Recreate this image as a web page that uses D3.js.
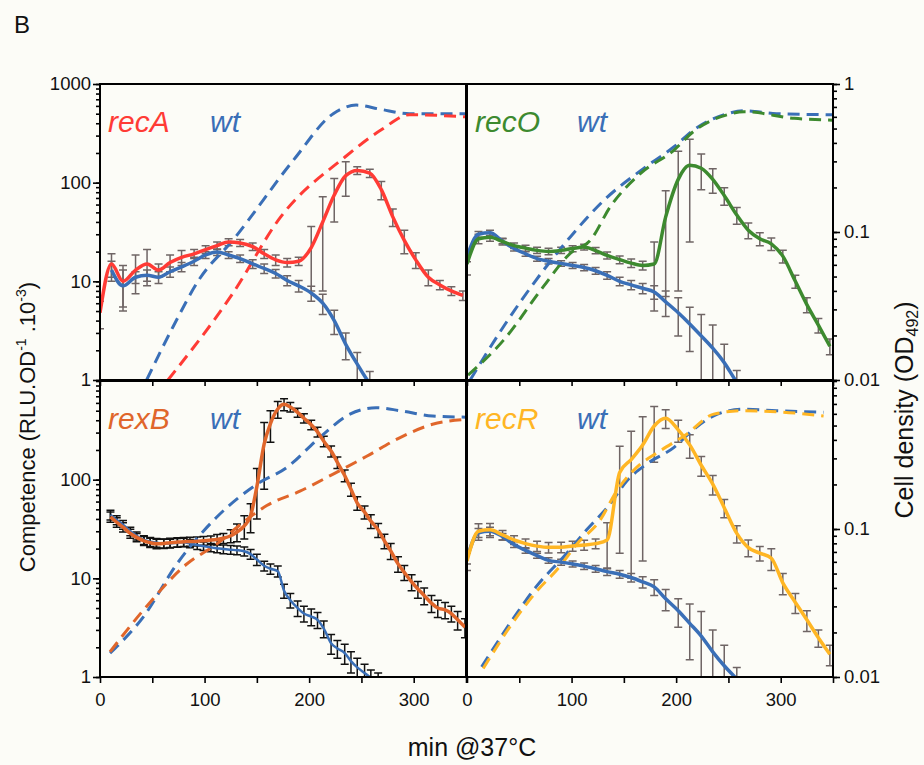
<!DOCTYPE html>
<html lang="en">
<head>
<meta charset="utf-8">
<title>Competence and cell density</title>
<script src="https://cdn.jsdelivr.net/npm/d3@7"></script>
<style>
  body { margin: 0; background: #fcfcf7; }
  text { font-family: "Liberation Sans", Arial, sans-serif; }
</style>
</head>
<body>
<svg width="924" height="765"></svg>
<script>
// sampling times (min) for recA / recO / recR panels
var T = [0, 11, 22, 34, 45, 56, 67, 78, 90, 101, 112, 123, 134, 146, 157, 168,
         179, 190, 202, 213, 224, 235, 246, 258, 269, 280, 291, 302, 314, 325, 336, 347];
// sampling times (min) for the rexB panel
var TB = [10, 16, 22, 29, 35, 42, 48, 54, 61, 67, 74, 80, 86, 93, 99, 106, 112, 118,
          125, 131, 138, 144, 150, 157, 163, 170, 176, 182, 189, 195, 202, 208, 214, 221,
          227, 234, 240, 246, 253, 259, 266, 272, 278, 285, 291, 298, 304, 310, 317, 323,
          330, 336, 342, 349];

// competence (RLU.OD-1.10-3) and sd
var recA    = [4.8, 15, 10, 13, 15, 13, 15.5, 17.5, 19, 21, 23, 25, 24.5, 22.5, 19, 16.5,
               15.5, 16, 22, 40, 75, 118, 133, 125, 85, 45, 26, 16.5, 11, 9.2, 8, 7.2];
var recA_sd = [1.5, 4, 4.5, 5.5, 6, 2, 3, 3, 2, 2, 2, 2, 2, 2, 2, 2,
               1.5, 1.5, 14, 32, 35, 45, 12, 12, 18, 9, 7, 3, 2, 1, 0.8, 0.8];
var wtA     = [null, 13, 9, 11, 11.5, 11, 12.5, 14, 16, 18.5, 19.8, 18.5, 17, 15, 13.5, 12,
               10.2, 9, 7.6, 6, 4, 2.3, 1.45, 0.92, 0.7];
var wtA_sd  = [null, 3, 4, 1.5, 1.5, 1.5, 1.5, 1.5, 1.5, 1.5, 1.5, 1.5, 1.5, 1.5, 1.5, 1.2,
               1.2, 1.2, 1.3, 1.4, 1.1, 0.7, 0.45, 0.3, 0.2];

var recO    = [15, 27, 28, 25.3, 23, 21.7, 20.6, 20.1, 20.6, 21.5, 22.3, 20.5, 18.3, 16.6, 15.3, 14.5,
               15, 45, 108, 150, 140, 108, 74, 47, 33, 27, 24, 18, 10, 5.8, 3.6, 2.2];
var recO_sd = [3.4, 3, 2.5, 2, 1.5, 1.5, 1.5, 1.5, 1.5, 1.5, 1.5, 1.5, 1.5, 1.5, 1.5, 1.5,
               10, 38, 100, 125, 55, 30, 15, 9, 6, 4, 3.5, 2.7, 1.5, 1, 0.6, 0.4];
var wtO     = [17.8, 30, 31, 25.5, 21.5, 19, 17, 16, 15.2, 14.5, 13.8, 12.8, 11.5, 10, 9.2, 8.5,
               7.8, 6.2, 4.8, 3.7, 2.8, 2.1, 1.5, 0.95, 0.7];
var wtO_sd  = [2, 2, 2, 1.5, 1.2, 1, 1, 1, 1, 1, 1, 1, 1, 1, 1, 1,
               1.2, 1.8, 2, 1.75, 1.8, 1.5, 0.8, 0.3, 0.2];

var recR    = [15, 30, 31, 27.5, 24.5, 22.5, 21.2, 20.6, 20.7, 21.3, 21.8, 22.5, 24.5, 118, 160, 225,
               350, 420, 320, 225, 140, 90, 52, 28.5, 20.5, 18, 16, 9, 5.7, 3.8, 2.5, 1.7];
var recR_sd = [3, 5.7, 5, 3, 2.5, 2.5, 2.5, 2.5, 2.5, 2.5, 2.5, 2.5, 12, 100, 150, 210,
               200, 90, 80, 60, 32, 20, 11, 5.7, 4, 3, 4, 2.2, 1.3, 0.9, 0.5, 0.4];
var wtR     = [16, 29, 30, 26.5, 22, 19.2, 17, 15.2, 14.6, 14, 13.3, 12.5, 11.7, 11, 10.2, 9.2,
               8.2, 6.2, 4.7, 3.5, 2.6, 1.8, 1.3, 0.95, 0.7];
var wtR_sd  = [2, 3, 3, 2, 1.5, 1.2, 1, 1, 1, 1, 1, 1, 1, 1, 1, 1.2,
               1.5, 1.5, 1.5, 2, 2, 1.2, 0.8, 0.3, 0.2];

var rexB    = [42, 37, 33, 28.5, 26, 24, 23, 22.4, 22.6, 23, 23.3, 23.5, 23.6, 23.8, 24.1, 24.4, 24.8, 25.5,
               27, 29.5, 34, 43, 85, 230, 370, 520, 580, 545, 480, 420, 360, 305, 245, 195,
               150, 110, 80, 58, 47, 38, 31, 24, 19, 14, 11.5, 9.2, 7.8, 6.7, 5.6, 5.0,
               4.8, 4.4, 3.8, 3.2];
var rexB_sd = [5, 4, 3.5, 3, 2.5, 2.5, 2.5, 2.5, 2.5, 2.5, 2.5, 2.5, 2.5, 2.5, 2.5, 2.5, 3, 3,
               4, 6, 9, 14, 45, 150, 130, 100, 80, 60, 50, 45, 40, 35, 30, 25,
               20, 15, 12, 9, 7, 6, 5, 4, 3.5, 2.5, 2, 1.7, 1.5, 1.3, 1.1, 1,
               0.9, 0.8, 0.8, 0.7];
var wtB     = [44, 39, 35, 30, 27, 24.5, 23.5, 23, 22.6, 22.6, 23, 23.2, 22.6, 21.8, 21.2, 20.6, 20.2, 19.8,
               19.5, 19.3, 18.8, 17.6, 15.5, 13.4, 12.5, 11.8, 7.5, 6.0, 5.0, 4.4, 4.1, 3.8, 3.1, 2.2,
               1.95, 1.75, 1.45, 1.25, 1.1, 0.98, 0.9, 0.85, 0.8];
var wtB_sd  = [5, 4, 3.5, 3, 2.5, 2.5, 2.5, 2.3, 2.3, 2.3, 2.3, 2.3, 2.2, 2.2, 2.1, 2, 2, 2,
               2, 2, 2, 2, 2, 1.5, 1.5, 1.5, 1.2, 1, 0.9, 0.8, 0.8, 0.7, 0.6, 0.5,
               0.4, 0.4, 0.35, 0.3, 0.25, 0.2, 0.2, 0.15, 0.15];

// cell density (OD492), dashed curves
var odA_wt_t  = [44.6, 70, 95, 127, 185, 223, 245, 268, 296, 350];
var odA_wt    = [0.01, 0.023, 0.048, 0.088, 0.306, 0.63, 0.72, 0.675, 0.63, 0.63];
var odA_mut_t = [65, 127, 173, 234, 269, 296, 350];
var odA_mut   = [0.01, 0.0385, 0.127, 0.32, 0.49, 0.62, 0.6];

var odO_wt_t  = [3, 35, 73, 99, 131, 166, 198, 217, 249, 265, 296, 350];
var odO_wt    = [0.01, 0.023, 0.055, 0.093, 0.164, 0.26, 0.377, 0.49, 0.63, 0.66, 0.63, 0.62];
var odO_mut_t = [1, 35, 73, 99, 118, 137, 166, 198, 217, 249, 265, 313, 350];
var odO_mut   = [0.0108, 0.0186, 0.0427, 0.072, 0.088, 0.148, 0.249, 0.358, 0.48, 0.62, 0.65, 0.586, 0.57];

var odB_wt_t  = [9.6, 41.5, 73.5, 111.5, 149.7, 178.5, 210, 239, 264, 287, 318, 350];
var odB_wt    = [0.0145, 0.0255, 0.058, 0.12, 0.2, 0.26, 0.415, 0.597, 0.66, 0.63, 0.58, 0.57];
var odB_mut_t = [9.6, 41.5, 83, 111.5, 137, 159.5, 191.2, 223, 255, 287, 318, 350];
var odB_mut   = [0.0148, 0.0283, 0.058, 0.079, 0.111, 0.144, 0.18, 0.235, 0.31, 0.415, 0.51, 0.55];

var odR_wt_t  = [14, 41, 66, 95, 114, 137, 153, 172, 198, 217, 239.5, 264.6, 296, 341];
var odR_wt    = [0.0117, 0.023, 0.0406, 0.068, 0.098, 0.148, 0.212, 0.275, 0.356, 0.473, 0.597, 0.645, 0.63, 0.615];
var odR_mut_t = [15.5, 41, 66, 88, 105, 127, 143, 162, 185, 210, 236, 264.6, 296, 341];
var odR_mut   = [0.0114, 0.0218, 0.0375, 0.055, 0.079, 0.114, 0.18, 0.26, 0.338, 0.437, 0.597, 0.63, 0.62, 0.58];

var blue = "#3a6fb7";

var svg = d3.select("svg");
svg.append("rect").attr("width", 924).attr("height", 765).attr("fill", "#fcfcf7");

var pw = 366, ph = 296;
var x = d3.scaleLinear().domain([0, 350]).range([0, pw]);
var yL = d3.scaleLog().domain([1, 1000]).range([ph, 0]);
var yR = d3.scaleLog().domain([0.01, 1]).range([ph, 0]);

function pts(t, v, sd) {
  return t.map(function(d, i) {
    return {t: d, v: i < v.length ? v[i] : null, sd: sd && i < sd.length ? sd[i] : null};
  });
}

var lineL = d3.line().defined(function(d) { return d.v != null; })
  .x(function(d) { return x(d.t); }).y(function(d) { return yL(d.v); })
  .curve(d3.curveMonotoneX);
var lineR = d3.line()
  .x(function(d) { return x(d.t); }).y(function(d) { return yR(d.v); })
  .curve(d3.curveMonotoneX);

var panels = [
  {id: "A", px: 100, py: 84, side: "left", top: true, name: "recA", col: "#ff3b35", err: "#6f6565",
   t: T, mut: recA, mutSd: recA_sd, wt: wtA, wtSd: wtA_sd, mutW: 3.5, wtW: 3.5,
   od: [[odA_wt_t, odA_wt], [odA_mut_t, odA_mut]]},
  {id: "O", px: 467, py: 84, side: "right", top: true, name: "recO", col: "#3d8a2f", err: "#6f6565",
   t: T, mut: recO, mutSd: recO_sd, wt: wtO, wtSd: wtO_sd, mutW: 3.5, wtW: 3.5,
   od: [[odO_wt_t, odO_wt], [odO_mut_t, odO_mut]]},
  {id: "B", px: 100, py: 381, side: "left", top: false, name: "rexB", col: "#e0662b", err: "#111111",
   t: TB, mut: rexB, mutSd: rexB_sd, wt: wtB, wtSd: wtB_sd, mutW: 3.5, wtW: 2.5,
   od: [[odB_wt_t, odB_wt], [odB_mut_t, odB_mut]]},
  {id: "R", px: 467, py: 381, side: "right", top: false, name: "recR", col: "#ffb624", err: "#6f6565",
   t: T, mut: recR, mutSd: recR_sd, wt: wtR, wtSd: wtR_sd, mutW: 3.5, wtW: 3.5,
   od: [[odR_wt_t, odR_wt], [odR_mut_t, odR_mut]]}
];

var minorL = [], minorR = [];
[1, 10, 100].forEach(function(b) { for (var k = 1; k < 10; k++) minorL.push(b * k); });
minorL.push(1000);
[0.01, 0.1].forEach(function(b) { for (var k = 1; k < 10; k++) minorR.push(+(b * k).toPrecision(3)); });
minorR.push(1);

panels.forEach(function(p) {
  var g = svg.append("g").attr("transform", "translate(" + p.px + "," + p.py + ")");

  g.append("clipPath").attr("id", "clip" + p.id)
    .append("rect").attr("width", pw).attr("height", ph);

  // axes
  g.append("g").attr("transform", "translate(0," + ph + ")")
    .call(d3.axisBottom(x).tickValues(d3.range(0, 351, 50)).tickSize(6).tickPadding(10)
      .tickFormat(function(d) { return (!p.top && d % 100 === 0 && d < 350) ? d : ""; }));
  if (p.side === "left") {
    g.append("g").call(d3.axisLeft(yL).tickValues(minorL).tickSize(4).tickFormat(""));
    g.append("g").call(d3.axisLeft(yL).tickValues(p.top ? [1, 10, 100, 1000] : [1, 10, 100])
      .tickSize(7).tickPadding(2).tickFormat(d3.format("d")));
  } else {
    g.append("g").attr("transform", "translate(" + pw + ",0)")
      .call(d3.axisRight(yR).tickValues(minorR).tickSize(4).tickFormat(""));
    g.append("g").attr("transform", "translate(" + pw + ",0)")
      .call(d3.axisRight(yR).tickValues(p.top ? [0.01, 0.1, 1] : [0.01, 0.1])
        .tickSize(7).tickPadding(4).tickFormat(function(d) { return d === 1 ? "1" : String(d); }));
  }
  g.selectAll(".domain").remove();
  g.selectAll(".tick line").attr("stroke", "#000").attr("stroke-width", 1.6);
  g.selectAll(".tick text").attr("font-size", 18.5).attr("fill", "#111")
    .style("font-family", "'Liberation Sans', Arial, sans-serif");

  var plot = g.append("g").attr("clip-path", "url(#clip" + p.id + ")");

  // error bars
  var eb = [pts(p.t, p.wt, p.wtSd), pts(p.t, p.mut, p.mutSd)];
  eb.forEach(function(s) {
    var d = s.filter(function(e) { return e.v != null && e.sd != null; });
    var grp = plot.append("g").attr("stroke", p.err).attr("stroke-width", 1.5).attr("fill", "none");
    grp.selectAll("path").data(d).enter().append("path")
      .attr("d", function(e) {
        var lo = yL(Math.max(e.v - e.sd, 0.3)), hi = yL(e.v + e.sd), cx = x(e.t);
        return "M" + cx + "," + lo + "V" + hi +
               "M" + (cx - 4) + "," + hi + "H" + (cx + 4) +
               "M" + (cx - 4) + "," + lo + "H" + (cx + 4);
      });
  });

  // cell density (dashed)
  var odCols = [blue, p.col];
  p.od.forEach(function(s, i) {
    plot.append("path").datum(pts(s[0], s[1]))
      .attr("d", lineR).attr("fill", "none").attr("stroke", odCols[i])
      .attr("stroke-width", 3).attr("stroke-dasharray", "12,7");
  });

  // competence (solid)
  plot.append("path").datum(pts(p.t, p.wt))
    .attr("d", lineL).attr("fill", "none").attr("stroke", blue)
    .attr("stroke-width", p.wtW).attr("stroke-linejoin", "round");
  plot.append("path").datum(pts(p.t, p.mut))
    .attr("d", lineL).attr("fill", "none").attr("stroke", p.col)
    .attr("stroke-width", p.mutW).attr("stroke-linejoin", "round");

  // frame
  g.append("rect").attr("width", pw).attr("height", ph)
    .attr("fill", "none").attr("stroke", "#000").attr("stroke-width", 2);

  // legend
  g.append("text").attr("x", 8).attr("y", 48).attr("font-size", 30).attr("font-style", "italic")
    .attr("fill", p.col).text(p.name);
  g.append("text").attr("x", 110).attr("y", 48).attr("font-size", 30).attr("font-style", "italic")
    .attr("fill", blue).text("wt");
});

// labels
svg.append("text").attr("x", 14).attr("y", 33).attr("font-size", 24).attr("fill", "#111").text("B");

svg.append("text").attr("x", 472).attr("y", 756).attr("text-anchor", "middle")
  .attr("font-size", 25).attr("fill", "#111").text("min @37°C");

var yl = svg.append("text").attr("transform", "translate(35,427) rotate(-90)")
  .attr("text-anchor", "middle").attr("font-size", 22).attr("fill", "#111");
yl.append("tspan").text("Competence (RLU.OD");
yl.append("tspan").attr("font-size", 14).attr("dy", -9).text("-1");
yl.append("tspan").attr("dy", 9).text(" .10");
yl.append("tspan").attr("font-size", 14).attr("dy", -9).text("-3");
yl.append("tspan").attr("dy", 9).text(")");

var yr = svg.append("text").attr("transform", "translate(913,410) rotate(-90)")
  .attr("text-anchor", "middle").attr("font-size", 25).attr("fill", "#111");
yr.append("tspan").text("Cell density (OD");
yr.append("tspan").attr("font-size", 16).attr("dy", 5).text("492");
yr.append("tspan").attr("dy", -5).text(")");
</script>
</body>
</html>
